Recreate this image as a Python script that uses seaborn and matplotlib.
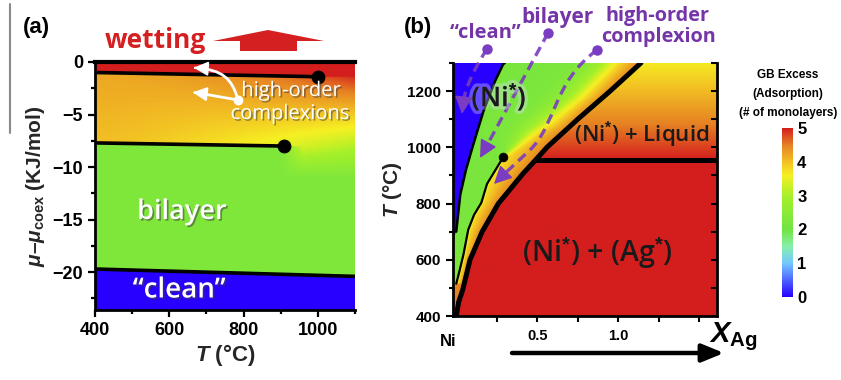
import numpy as np
import matplotlib
matplotlib.use("Agg")
import matplotlib.pyplot as plt
import seaborn as sns
from matplotlib.colors import LinearSegmentedColormap, Normalize
from matplotlib.cm import ScalarMappable
import matplotlib.patheffects as pe
from matplotlib.patches import Polygon, PathPatch
from matplotlib.path import Path
from matplotlib.ticker import FixedLocator, MultipleLocator

# ---------------- data: panel (a) ----------------
a_T_lim = [400, 1100]
a_mu_lim = [-23.6, 0]
wet_line_T = [400, 1000]
wet_line_mu = [-1.0, -1.4]
bil_line_T = [400, 910]
bil_line_mu = [-7.7, -8.0]
clean_line_T = [400, 1100]
clean_line_mu = [-19.7, -20.4]
a_dot_T = [1000, 910]
a_dot_mu = [-1.4, -8.0]
a_xticks = [400, 600, 800, 1000]
a_yticks = [0, -5, -10, -15, -20]

# ---------------- data: panel (b) ----------------
b_x_lim = [-0.02, 1.61]
b_T_lim = [400, 1300]
solvus_x = [0.0, 0.015, 0.04, 0.085, 0.16, 0.26, 0.41, 0.49, 0.56, 0.75, 0.95, 1.14]
solvus_T = [400, 450, 493, 600, 700, 800, 905, 955, 1000, 1100, 1200, 1300]
trans_x = [0.0, 0.02, 0.045, 0.074, 0.11, 0.155, 0.19, 0.29]
trans_T = [515, 560, 620, 707, 760, 803, 870, 965]
trans_ext_x = [0.29, 0.42, 0.55, 0.70, 0.90]
trans_ext_T = [965, 1050, 1110, 1180, 1300]
clean_x = [-0.02, 0.0, 0.025, 0.06, 0.10, 0.167, 0.24, 0.29, 0.30]
clean_T = [680, 700, 832, 920, 1000, 1127, 1236, 1296, 1300]
eutectic_T = 955
eutectic_x = [0.49, 1.61]
b_dot_x = [0.29]
b_dot_T = [965]
b_xticks = [0.25, 0.5, 0.75, 1.0, 1.25, 1.5]
b_xticklabels = ["", "0.5", "", "1.0", "", ""]
b_yticks = [400, 600, 800, 1000, 1200]

# ---------------- colour scale ----------------
cb_ticks = [0, 1, 2, 3, 4, 5]
cmap_stops = [0.0, 1.0, 1.5, 2.0, 3.0, 3.6, 4.0, 4.5, 5.0]
cmap_cols = ["#2800ff", "#74c8ff", "#86f0a8", "#70e442", "#a6f02a",
             "#f6f022", "#f2c024", "#e68222", "#d41e1e"]
cmap = LinearSegmentedColormap.from_list("gb", list(zip([s / 5 for s in cmap_stops], cmap_cols)))
norm = Normalize(0, 5)

sns.set_theme(style="white")
plt.rcParams["font.family"] = ["Liberation Sans", "DejaVu Sans"]
plt.rcParams["font.weight"] = "bold"
plt.rcParams["mathtext.fontset"] = "custom"
plt.rcParams["mathtext.it"] = "Liberation Sans:italic:bold"
plt.rcParams["mathtext.rm"] = "Liberation Sans:bold"
plt.rcParams["mathtext.bf"] = "Liberation Sans:bold"

W, H = 841, 380
fig = plt.figure(figsize=(W / 100, H / 100), dpi=100)


def fr(x0, y0, x1, y1):
    return [x0 / W, 1 - y1 / H, (x1 - x0) / W, (y1 - y0) / H]


# ================= panel (a) =================
axa = fig.add_axes(fr(95, 62, 355, 310))
gx = np.linspace(a_T_lim[0], a_T_lim[1], 600)
gy = np.linspace(a_mu_lim[0], a_mu_lim[1], 500)
X, Y = np.meshgrid(gx, gy)
l1 = np.interp(X, wet_line_T, wet_line_mu)
l2 = np.interp(X, bil_line_T, bil_line_mu)
l3 = np.interp(X, clean_line_T, clean_line_mu)
s = (X - 400) / 700
vb = 4.0 - 0.9 * s ** 1.5
vt = 4.2 + 0.7 * s ** 2
t = np.clip((Y - l2) / (l1 - l2), 0, 1)
vmid = vb + (vt - vb) * t
wx = np.clip((X - 900) / 60, 0, 1)
ramp = np.clip(1 - (l2 - Y) / 3.0, 0, 1)
vbel = 2.3 + (vb - 2.3) * wx * ramp
VA = np.where(Y > l1, 5.0, np.where(Y > l2, vmid, np.where(Y > l3, vbel, 0.0)))
axa.imshow(VA, origin="lower", aspect="auto", cmap=cmap, norm=norm,
           extent=[a_T_lim[0], a_T_lim[1], a_mu_lim[0], a_mu_lim[1]],
           interpolation="bilinear", zorder=0)
for xs_, ys_ in [(wet_line_T, wet_line_mu), (bil_line_T, bil_line_mu), (clean_line_T, clean_line_mu)]:
    sns.lineplot(x=xs_, y=ys_, ax=axa, color="black", lw=2.6, sort=False, estimator=None, zorder=3)
sns.scatterplot(x=a_dot_T, y=a_dot_mu, ax=axa, color="black", s=85, edgecolor="black", zorder=4)
axa.set_xlim(a_T_lim)
axa.set_ylim(a_mu_lim)
axa.set_xticks(a_xticks)
axa.set_yticks(a_yticks)
axa.xaxis.set_minor_locator(MultipleLocator(100))
axa.yaxis.set_minor_locator(MultipleLocator(2.5))
axa.tick_params(which="both", direction="out", width=1.6, colors="black", labelsize=13,
                bottom=True, left=True, top=False, right=False)
axa.tick_params(which="major", length=5)
axa.tick_params(which="minor", length=3)
for lab in axa.get_xticklabels() + axa.get_yticklabels():
    lab.set_fontweight("bold")
for side in ["left", "bottom"]:
    axa.spines[side].set_linewidth(2)
    axa.spines[side].set_color("black")
axa.spines["top"].set_linewidth(3)
axa.spines["top"].set_color("black")
axa.spines["right"].set_visible(False)
axa.set_xlabel(r"$T$ (°C)", fontsize=16, fontweight="bold", labelpad=2)
axa.set_ylabel(r"$\mu$–$\mu_{\rm coex}$ (KJ/mol)", fontsize=15, fontweight="bold", labelpad=4)

# ================= panel (b) =================
axb = fig.add_axes(fr(453, 63, 717, 316))
bx = np.linspace(b_x_lim[0], b_x_lim[1], 700)
bT = np.linspace(b_T_lim[0], b_T_lim[1], 500)
X, TT = np.meshgrid(bx, bT)
xs = np.interp(TT, solvus_T, solvus_x)
xb = np.interp(TT, clean_T, clean_x, left=-1.0)
xt = np.interp(TT, trans_T + trans_ext_T[1:], trans_x + trans_ext_x[1:], left=-1.0)
w = 0.004 + 0.06 * np.clip((TT - 965) / 120, 0, 1)
sig = 1 / (1 + np.exp(-np.clip((X - xt) / w, -50, 50)))
frac = np.clip((X - xt) / np.maximum(xs - xt, 1e-3), 0, 1)
vB = 2.2 + sig * (1.5 + 0.8 * frac)
vC = 5 - 1.35 * np.clip((TT - eutectic_T) / 345, 0, 1)
VB = np.where(X < xb, 0.0, np.where(X < xs, vB, np.where(TT > eutectic_T, vC, 5.0)))
axb.imshow(VB, origin="lower", aspect="auto", cmap=cmap, norm=norm,
           extent=[b_x_lim[0], b_x_lim[1], b_T_lim[0], b_T_lim[1]],
           interpolation="bilinear", zorder=0)
sns.lineplot(x=solvus_x, y=solvus_T, ax=axb, color="black", lw=3.6, sort=False, estimator=None, zorder=3)
sns.lineplot(x=eutectic_x, y=[eutectic_T, eutectic_T], ax=axb, color="black", lw=3.6, sort=False,
             estimator=None, zorder=3)
sns.lineplot(x=trans_x, y=trans_T, ax=axb, color="black", lw=1.6, sort=False, estimator=None, zorder=3)
sns.lineplot(x=clean_x[1:], y=clean_T[1:], ax=axb, color="black", lw=1.8, sort=False, estimator=None, zorder=3)
sns.scatterplot(x=b_dot_x, y=b_dot_T, ax=axb, color="black", s=40, edgecolor="black", zorder=4)
axb.set_xlim(b_x_lim)
axb.set_ylim(b_T_lim)
axb.xaxis.set_major_locator(FixedLocator(b_xticks))
axb.set_xticklabels(b_xticklabels)
axb.set_yticks(b_yticks)
axb.yaxis.set_minor_locator(MultipleLocator(100))
axb.tick_params(which="both", direction="out", width=1.5, colors="black", labelsize=11,
                bottom=True, left=True, top=False, right=False)
axb.tick_params(axis="x", labelsize=10.5, length=4, pad=5)
axb.tick_params(axis="y", which="major", length=5)
axb.tick_params(axis="y", which="minor", length=3)
for lab in axb.get_xticklabels() + axb.get_yticklabels():
    lab.set_fontweight("bold")
for side in ["left", "bottom", "right"]:
    axb.spines[side].set_linewidth(2)
    axb.spines[side].set_color("black")
axb.spines["top"].set_visible(False)
axr = axb.secondary_yaxis("right")
axr.yaxis.set_major_locator(MultipleLocator(100))
axr.tick_params(direction="in", length=4, width=1.5, labelright=False, colors="black")
axr.spines["right"].set_visible(False)
axb.set_ylabel(r"$T$ (°C)", fontsize=15, fontweight="bold", labelpad=2)

# colour bar
cax = fig.add_axes(fr(782, 128, 793, 297))
cb = fig.colorbar(ScalarMappable(norm=norm, cmap=cmap), cax=cax, ticks=cb_ticks)
cb.outline.set_visible(False)
cax.tick_params(length=0, labelsize=12, pad=3, colors="black")
for lab in cax.get_yticklabels():
    lab.set_fontweight("bold")

# ================= overlay (annotations in pixel space) =================
ov = fig.add_axes([0, 0, 1, 1], zorder=10)
ov.set_xlim(0, W)
ov.set_ylim(H, 0)
ov.axis("off")
ov.patch.set_alpha(0)

OS = ["Open Sans", "DejaVu Sans"]
ov.plot([10, 10], [4, 133], color="#8a8a8a", lw=1.5)
ov.text(36, 28, "(a)", fontsize=16, fontweight="bold", ha="center", va="center", color="black")
ov.text(418, 28, "(b)", fontsize=16, fontweight="bold", ha="center", va="center", color="black")

red = "#d42020"
ov.text(155, 40, "wetting", fontsize=19, fontweight="bold", color=red, ha="center", va="center", family=OS)
ov.add_patch(Polygon([(268, 30), (324, 41), (297, 41), (297, 51), (240, 51), (240, 41), (213, 41)],
                     closed=True, fc=red, ec="none"))

shadow = [pe.SimplePatchShadow(offset=(1.2, -1.2), shadow_rgbFace="#404040", alpha=0.55), pe.Normal()]
ov.text(291, 91, "high-order", fontsize=14.5, color="white", ha="center", va="center",
        family=OS, fontweight="normal", path_effects=shadow)
ov.text(290, 114, "complexions", fontsize=14.5, color="white", ha="center", va="center",
        family=OS, fontweight="normal", path_effects=shadow)
ov.text(182, 212, "bilayer", fontsize=19.5, color="white", ha="center", va="center",
        family=OS, fontweight="semibold", path_effects=shadow)
ov.text(179, 290, "“clean”", fontsize=20, color="white", ha="center", va="center",
        family=OS, fontweight="semibold", path_effects=shadow)

# white arrows
wa = dict(arrowstyle="-|>,head_length=0.7,head_width=0.35", color="white", lw=1.5)
p1 = Path([(238, 100), (232, 78), (222, 70), (197, 68)], [Path.MOVETO, Path.CURVE4, Path.CURVE4, Path.CURVE4])
ov.add_patch(PathPatch(p1, fill=False, ec="white", lw=2))
ov.annotate("", xy=(191, 67.5), xytext=(198, 68), arrowprops=wa)
ov.plot([238, 198], [100, 93], color="white", lw=2)
ov.annotate("", xy=(190, 92), xytext=(198, 93), arrowprops=wa)
ov.plot([238], [100], "o", color="white", ms=6)

# panel (b) labels
dark = "#1a1a1a"
glow = [pe.withStroke(linewidth=5, foreground=(0.85, 0.88, 1.0, 0.35))]
ov.text(499, 97, "(Ni$^{*}$)", fontsize=19.5, color=dark, ha="center", va="center",
        family=OS, fontweight="semibold", path_effects=glow)
ov.text(642, 135, "(Ni$^{*}$) + Liquid", fontsize=16, color=dark, ha="center", va="center",
        family=OS, fontweight="semibold")
ov.text(597, 254, "(Ni$^{*}$) + (Ag$^{*}$)", fontsize=20.5, color=dark, ha="center", va="center",
        family=OS, fontweight="semibold")

purple = "#7a3cc0"
ptxt = "#7535a8"
ov.text(486, 33, "“clean”", fontsize=14.5, color=ptxt, ha="center", va="center", family=OS, fontweight="bold")
ov.text(558, 18, "bilayer", fontsize=15, color=ptxt, ha="center", va="center", family=OS, fontweight="bold")
ov.text(658, 16, "high-order", fontsize=14.3, color=ptxt, ha="center", va="center", family=OS, fontweight="bold")
ov.text(659, 37, "complexion", fontsize=14.3, color=ptxt, ha="center", va="center", family=OS, fontweight="bold")

arrow_paths = [
    ([(487, 49), (472, 72), (464, 92), (463, 104)], [Path.MOVETO, Path.CURVE4, Path.CURVE4, Path.CURVE4], (462, 114)),
    ([(548, 33), (485, 149)], [Path.MOVETO, Path.LINETO], (480, 158)),
    ([(597, 50), (553, 82), (556, 125), (530, 150), (500, 178)],
     [Path.MOVETO, Path.CURVE4, Path.CURVE4, Path.CURVE4, Path.LINETO], (494, 184)),
]
for verts, codes, tip in arrow_paths:
    ov.add_patch(PathPatch(Path(verts, codes), fill=False, ec=purple, lw=2.4, ls=(0, (3, 1.8)), alpha=0.9))
    ov.annotate("", xy=tip, xytext=verts[-1],
                arrowprops=dict(arrowstyle="-|>,head_length=0.9,head_width=0.45", color=purple, lw=1.2,
                                shrinkA=0, shrinkB=0))
    ov.plot([verts[0][0]], [verts[0][1]], "o", color=purple, ms=6.5)

ov.text(448, 342, "Ni", fontsize=12, fontweight="bold", ha="center", va="center", color="black")
ov.text(733, 337, r"$X_{\rm Ag}$", fontsize=21, ha="center", va="center", color="black")
ov.annotate("", xy=(724, 353), xytext=(512, 353),
            arrowprops=dict(arrowstyle="-|>,head_length=1.1,head_width=0.45", color="black", lw=3.2,
                            shrinkA=0, shrinkB=0))

for i, line in enumerate(["GB Excess", "(Adsorption)", "(# of monolayers)"]):
    ov.text(788, 75 + 19 * i, line, fontsize=8.5, fontweight="bold", ha="center", va="center", color="black")

fig.savefig("out.png", dpi=100)
